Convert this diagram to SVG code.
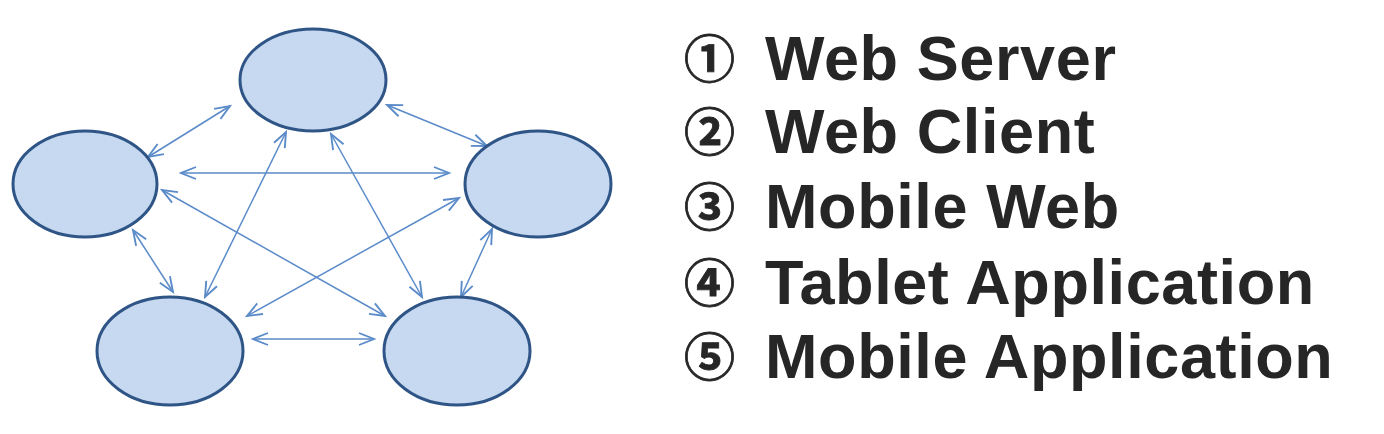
<svg xmlns="http://www.w3.org/2000/svg" width="1384" height="434" viewBox="0 0 1384 434">
<defs>
<marker id="ah" markerUnits="userSpaceOnUse" markerWidth="20" markerHeight="20" viewBox="-14 -7 16 14" refX="0" refY="0" orient="auto-start-reverse">
<path d="M-12,-4.8 L0,0 L-12,4.8" fill="none" stroke="#5b8bc9" stroke-width="1.5"/>
</marker>
<style>
.node{fill:#c6d9f0;stroke:#2f5486;stroke-width:3}
.edge{stroke:#5b8bc9;stroke-width:1.5;fill:none;marker-start:url(#ah);marker-end:url(#ah)}
.lbl{font-family:"Liberation Sans",Arial,sans-serif;font-weight:bold;font-size:63px;letter-spacing:0.6px;fill:#262626}
.num{font-family:"Noto Sans CJK KR","DejaVu Sans",sans-serif;font-weight:bold;font-size:51px;fill:#262626;stroke:#262626;stroke-width:0.8px}
</style>
</defs>
<rect width="1384" height="434" fill="#ffffff"/>
<g id="connectors">
<line class="edge" x1="230" y1="106" x2="148" y2="157"/>
<line class="edge" x1="387" y1="105" x2="487" y2="146"/>
<line class="edge" x1="181" y1="173" x2="449" y2="173"/>
<line class="edge" x1="162" y1="190" x2="385" y2="316"/>
<line class="edge" x1="459" y1="198" x2="247" y2="316"/>
<line class="edge" x1="286" y1="132" x2="205" y2="297"/>
<line class="edge" x1="331" y1="134" x2="422" y2="297"/>
<line class="edge" x1="133" y1="230" x2="173" y2="292"/>
<line class="edge" x1="492" y1="229" x2="461" y2="297"/>
<line class="edge" x1="253" y1="339" x2="374" y2="339"/>
</g>
<g id="node-top"><ellipse class="node" cx="313" cy="80" rx="73" ry="51"/></g>
<g id="node-left"><ellipse class="node" cx="85" cy="184" rx="72" ry="53"/></g>
<g id="node-right"><ellipse class="node" cx="538" cy="184" rx="73" ry="53"/></g>
<g id="node-bottom-left"><ellipse class="node" cx="170" cy="351" rx="73" ry="54"/></g>
<g id="node-bottom-right"><ellipse class="node" cx="457" cy="351" rx="73" ry="54"/></g>
<g id="legend">
<text class="num" x="684" y="78">①</text><text class="lbl" x="765" y="80">Web Server</text>
<text class="num" x="684" y="151">②</text><text class="lbl" x="765" y="153">Web Client</text>
<text class="num" x="684" y="226">③</text><text class="lbl" x="765" y="228">Mobile Web</text>
<text class="num" x="684" y="302">④</text><text class="lbl" x="765" y="304">Tablet Application</text>
<text class="num" x="684" y="376">⑤</text><text class="lbl" x="765" y="378">Mobile Application</text>
</g>
</svg>
